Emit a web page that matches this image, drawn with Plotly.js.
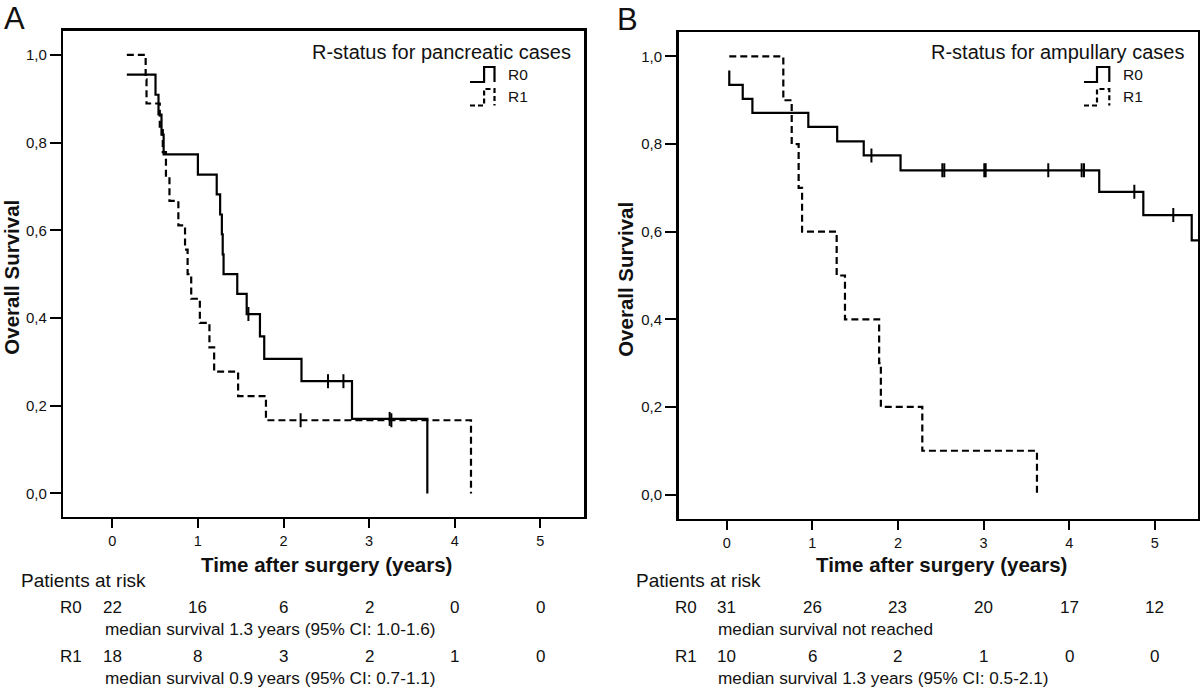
<!DOCTYPE html>
<html>
<head>
<meta charset="utf-8">
<script src="https://cdn.plot.ly/plotly-3.0.1.min.js"></script>
<style>html,body{margin:0;padding:0;background:#fff;}#chart{width:1200px;height:690px;}</style>
</head>
<body>
<div id="chart"></div>
<script>
// ---------- data ----------
// Panel A: pancreatic cases
const a_r0_time = [0.17, 0.505, 0.54, 0.575, 0.60, 1.0, 1.22, 1.26, 1.28, 1.29, 1.30, 1.46, 1.57, 1.725, 1.775, 2.21, 2.80, 3.68];
const a_r0_surv = [0.955, 0.909, 0.864, 0.818, 0.773, 0.727, 0.682, 0.636, 0.591, 0.545, 0.500, 0.455, 0.409, 0.358, 0.307, 0.256, 0.170, 0.0];
const a_r0_cens_time = [1.59, 2.52, 2.70, 3.24];
const a_r0_cens_surv = [0.409, 0.256, 0.256, 0.170];

const a_r1_time = [0.17, 0.39, 0.40, 0.555, 0.59, 0.627, 0.668, 0.772, 0.85, 0.88, 0.922, 1.023, 1.135, 1.19, 1.47, 1.795, 4.19];
const a_r1_surv = [1.0, 0.944, 0.889, 0.833, 0.778, 0.722, 0.667, 0.611, 0.556, 0.500, 0.444, 0.389, 0.333, 0.278, 0.222, 0.167, 0.0];
const a_r1_cens_time = [2.20, 3.26];
const a_r1_cens_surv = [0.167, 0.167];

// Panel B: ampullary cases
const b_r0_time = [0.03, 0.03, 0.187, 0.30, 0.953, 1.29, 1.60, 2.03, 4.35, 4.865, 5.43, 5.6];
const b_r0_surv = [0.968, 0.935, 0.903, 0.871, 0.839, 0.806, 0.774, 0.740, 0.691, 0.638, 0.580, 0.580];
const b_r0_cens_time = [1.69, 2.518, 2.541, 3.008, 3.024, 3.755, 4.145, 4.172, 4.76, 5.215];
const b_r0_cens_surv = [0.774, 0.740, 0.740, 0.740, 0.740, 0.740, 0.740, 0.740, 0.691, 0.638];

const b_r1_time = [0.03, 0.661, 0.759, 0.84, 0.88, 1.284, 1.381, 1.78, 1.80, 2.284, 3.623];
const b_r1_surv = [1.0, 0.9, 0.8, 0.7, 0.6, 0.5, 0.4, 0.3, 0.2, 0.1, 0.0];

// Patients at risk table
const riskYears = [0, 1, 2, 3, 4, 5];
const a_r0_risk = [22, 16, 6, 2, 0, 0];
const a_r1_risk = [18, 8, 3, 2, 1, 0];
const b_r0_risk = [31, 26, 23, 20, 17, 12];
const b_r1_risk = [10, 6, 2, 1, 0, 0];

const xTicks = [0, 1, 2, 3, 4, 5];
const yTicks = [0, 0.2, 0.4, 0.6, 0.8, 1.0];

const panelLetters = ['A', 'B'];
const legendTitles = ['R-status for pancreatic cases', 'R-status for ampullary cases'];
const seriesNames = ['R0', 'R1'];
const medianTexts = [
  ['median survival 1.3 years (95% CI: 1.0-1.6)', 'median survival 0.9 years (95% CI: 0.7-1.1)'],
  ['median survival not reached', 'median survival 1.3 years (95% CI: 0.5-2.1)']
];
const xTitle = 'Time after surgery (years)';
const yTitle = 'Overall Survival';
const riskHeading = 'Patients at risk';

// ---------- helpers ----------
const W = 1200, H = 690;
const px = x => x / W;
const py = y => 1 - y / H;
const FONT = 'Liberation Sans, Arial, sans-serif';
const TXT = '#111';
const DASH = '7px,4px';

function curve(t, s, xa, ya, dashed, name) {
  return {x: t, y: s, xaxis: xa, yaxis: ya, type: 'scatter', mode: 'lines', name: name,
    line: {shape: 'hv', color: '#000', width: 2.2, dash: dashed ? DASH : 'solid'},
    showlegend: false, hoverinfo: 'x+y'};
}
function cens(t, s, xa, ya, name) {
  return {x: t, y: s, xaxis: xa, yaxis: ya, type: 'scatter', mode: 'markers', name: name + ' censored',
    marker: {symbol: 'line-ns-open', size: 10, color: '#000', line: {width: 2, color: '#000'}},
    showlegend: false, hoverinfo: 'x+y'};
}

const data = [
  curve(a_r0_time, a_r0_surv, 'x', 'y', false, 'R0'),
  curve(a_r1_time, a_r1_surv, 'x', 'y', true, 'R1'),
  cens(a_r0_cens_time, a_r0_cens_surv, 'x', 'y', 'R0'),
  cens(a_r1_cens_time, a_r1_cens_surv, 'x', 'y', 'R1'),
  curve(b_r0_time, b_r0_surv, 'x2', 'y2', false, 'R0'),
  curve(b_r1_time, b_r1_surv, 'x2', 'y2', true, 'R1'),
  cens(b_r0_cens_time, b_r0_cens_surv, 'x2', 'y2', 'R0')
];

function xax(domain, range, anchor) {
  return {domain: domain, range: range, anchor: anchor, tickvals: xTicks, ticktext: xTicks.map(String),
    showline: true, mirror: true, linecolor: '#000', linewidth: 2.5,
    ticks: 'outside', ticklen: 9, tickwidth: 2, tickcolor: '#000',
    showgrid: false, zeroline: false, fixedrange: true,
    tickfont: {family: FONT, size: 14.5, color: TXT}};
}
function yax(domain, range, anchor) {
  return {domain: domain, range: range, anchor: anchor, tickvals: yTicks, tickformat: '.1f',
    showline: true, mirror: true, linecolor: '#000', linewidth: 2.5,
    ticks: 'outside', ticklen: 11, tickwidth: 2, tickcolor: '#000',
    showgrid: false, zeroline: false, fixedrange: true,
    tickfont: {family: FONT, size: 15, color: TXT}};
}

// panel geometry (pixels)
const panels = [
  {xa: 'x', left: 63.3, right: 584, top: 30.7, bottom: 516.7, letterX: 14, letterY: 19,
   ytitleX: 11.5, legendRight: 573, glyphX: [470, 484.1, 494.5], labelX: 506, riskLeft: 18.5, rowLabelX: 58.3, medianX: 102.7},
  {xa: 'x2', left: 678.5, right: 1198.3, top: 32.1, bottom: 518.6, letterX: 627.5, letterY: 19.5,
   ytitleX: 626, legendRight: 1186, glyphX: [1084, 1097, 1109.3], labelX: 1120.5, riskLeft: 633.5, rowLabelX: 673, medianX: 716}
];
const risks = [[a_r0_risk, a_r1_risk], [b_r0_risk, b_r1_risk]];

const annotations = [];
const shapes = [];
panels.forEach((p, i) => {
  annotations.push({xref: 'paper', yref: 'paper', x: px(p.letterX), y: py(p.letterY), text: panelLetters[i],
    showarrow: false, xanchor: 'center', yanchor: 'middle', font: {family: FONT, size: 31, color: TXT}});
  annotations.push({xref: 'paper', yref: 'paper', x: px(p.ytitleX), y: py((p.top + p.bottom) / 2 + 3.5), text: '<b>' + yTitle + '</b>',
    textangle: -90, showarrow: false, xanchor: 'center', yanchor: 'middle', font: {family: FONT, size: 20.5, color: TXT}});
  annotations.push({xref: 'paper', yref: 'paper', x: px((p.left + p.right) / 2 + 3), y: py(564), text: '<b>' + xTitle + '</b>',
    showarrow: false, xanchor: 'center', yanchor: 'middle', font: {family: FONT, size: 20.5, color: TXT}});
  // legend
  annotations.push({xref: 'paper', yref: 'paper', x: px(p.legendRight), y: py(52), text: legendTitles[i],
    showarrow: false, xanchor: 'right', yanchor: 'middle', font: {family: FONT, size: 20, color: TXT}});
  const gy = [[82, 67], [105.5, 89]];
  seriesNames.forEach((nm, k) => {
    annotations.push({xref: 'paper', yref: 'paper', x: px(p.labelX), y: py(k === 0 ? 74.3 : 96.7), text: nm,
      showarrow: false, xanchor: 'left', yanchor: 'middle', font: {family: FONT, size: 15.5, color: TXT}});
    const gx = p.glyphX, b = gy[k][0], t = gy[k][1];
    shapes.push({type: 'path', xref: 'paper', yref: 'paper',
      path: `M ${px(gx[0])},${py(b)} L ${px(gx[1])},${py(b)} L ${px(gx[1])},${py(t)} L ${px(gx[2])},${py(t)} L ${px(gx[2])},${py(b)}`,
      line: {color: '#000', width: 2.2, dash: k === 0 ? 'solid' : '5px,3px'}});
  });
  // at-risk table
  annotations.push({xref: 'paper', yref: 'paper', x: px(p.riskLeft), y: py(580), text: riskHeading,
    showarrow: false, xanchor: 'left', yanchor: 'middle', font: {family: FONT, size: 19, color: TXT}});
  const rowY = [607.3, 656.7], medY = [629.3, 678.3];
  seriesNames.forEach((nm, k) => {
    annotations.push({xref: 'paper', yref: 'paper', x: px(p.rowLabelX), y: py(rowY[k]), text: nm,
      showarrow: false, xanchor: 'left', yanchor: 'middle', font: {family: FONT, size: 17, color: TXT}});
    riskYears.forEach((yr, j) => {
      annotations.push({xref: p.xa, yref: 'paper', x: yr, y: py(rowY[k]), text: String(risks[i][k][j]),
        showarrow: false, xanchor: 'center', yanchor: 'middle', font: {family: FONT, size: 17, color: TXT}});
    });
    annotations.push({xref: 'paper', yref: 'paper', x: px(p.medianX), y: py(medY[k]), text: medianTexts[i][k],
      showarrow: false, xanchor: 'left', yanchor: 'middle', font: {family: FONT, size: 17.2, color: TXT}});
  });
});

const layout = {
  width: W, height: H, margin: {l: 0, r: 0, t: 0, b: 0},
  paper_bgcolor: '#fff', plot_bgcolor: '#fff', showlegend: false,
  separators: ',.',
  font: {family: FONT, color: TXT},
  xaxis: xax([px(63.3), px(584)], [-0.572, 5.51], 'y'),
  yaxis: yax([py(516.7), py(30.7)], [-0.0529, 1.055], 'x'),
  xaxis2: xax([px(678.5), px(1198.3)], [-0.563, 5.507], 'y2'),
  yaxis2: yax([py(518.6), py(32.1)], [-0.0548, 1.0555], 'x2'),
  annotations: annotations,
  shapes: shapes
};

Plotly.newPlot('chart', data, layout, {displayModeBar: false, staticPlot: true});
</script>
</body>
</html>
